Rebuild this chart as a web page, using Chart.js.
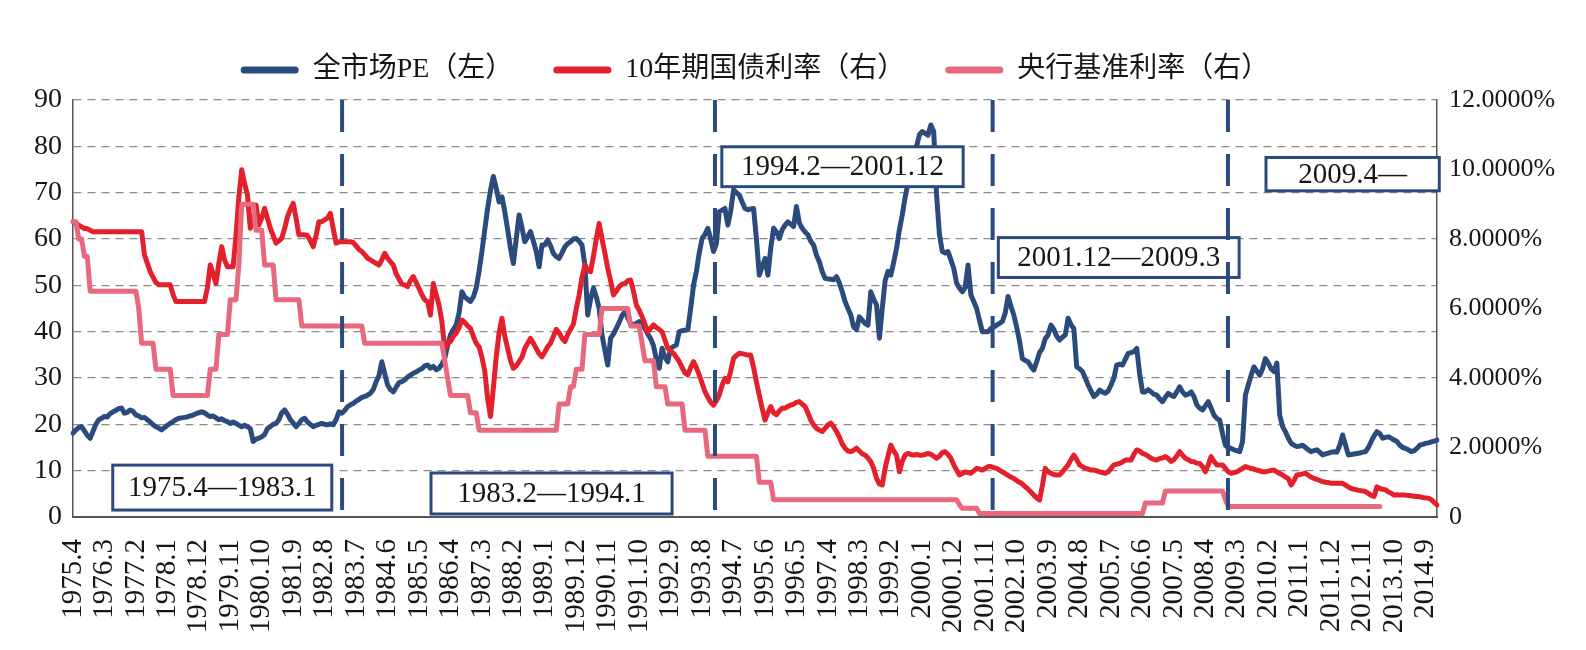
<!DOCTYPE html>
<html>
<head>
<meta charset="utf-8">
<script src="https://cdn.jsdelivr.net/npm/chart.js@4/dist/chart.umd.min.js"></script>
<style>
html,body{margin:0;padding:0;background:#ffffff;}
#wrap{width:1586px;height:650px;position:relative;}
</style>
</head>
<body>
<div id="wrap"><canvas id="c" width="1586" height="650"></canvas></div>
<script>
// ---------------- DATA ----------------
const seriesNames = ['全市场PE（左）', '10年期国债利率（右）', '央行基准利率（右）'];

// 全市场PE (left axis), monthly from 1975.4
const peValues = [
  18.1, 18.8, 19.3, 19.5, 18.6, 17.6, 17.0, 18.5, 20.0,
  21.0, 21.3, 21.7, 21.6, 22.3, 22.7, 23.0, 23.4, 23.5, 22.4, 22.6, 23.1,
  22.8, 22.0, 21.8, 21.4, 21.5, 21.0, 20.5, 19.9, 19.5, 19.2, 18.8, 19.3,
  19.8, 20.2, 20.6, 21.0, 21.3, 21.4, 21.5, 21.6, 21.8, 22.0, 22.3, 22.5,
  22.7, 22.5, 22.0, 21.7, 21.8, 21.4, 21.0, 21.2, 20.8, 20.6, 20.2, 20.5,
  20.2, 19.8, 19.5, 19.8, 19.5, 19.1, 16.3, 16.8, 17.0, 17.3, 17.8, 19.1,
  19.5, 20.0, 20.2, 21.0, 22.5, 23.1, 22.2, 21.0, 20.3, 19.5, 20.2, 21.0,
  21.3, 20.5, 20.0, 19.5, 19.8, 20.0, 20.2, 20.0, 19.9, 20.1, 19.9, 21.0,
  22.7, 22.4, 23.0, 23.8, 24.2, 24.5, 25.0, 25.4, 25.8, 26.0, 26.3, 26.7,
  27.5, 29.2, 30.5, 33.5, 31.0, 28.5, 27.5, 27.0, 28.0, 29.0, 29.2, 29.6,
  30.2, 30.6, 31.0, 31.3, 31.7, 32.0, 32.6, 32.8, 32.1, 32.5, 31.8, 32.1,
  33.0, 34.2, 37.0, 39.3, 40.5, 41.4, 44.0, 48.6, 47.5, 47.0, 46.5, 47.5,
  49.4, 53.0, 57.3, 62.0, 66.6, 70.5, 73.5, 71.0, 68.0, 69.1, 65.9, 62.0,
  58.0, 54.7, 60.0, 65.2, 62.5, 59.4, 60.5, 61.6, 59.5, 57.3, 54.0, 58.7,
  58.7, 59.8, 58.5, 56.9, 56.2, 55.8, 57.0, 58.3, 59.0, 59.4, 60.0, 60.1,
  59.5, 58.7, 54.4, 43.6, 47.0, 49.4, 47.5, 45.0, 39.3, 36.0, 32.8, 38.6,
  39.5, 40.7, 42.0, 43.5, 44.3, 43.0, 41.8, 41.4, 41.8, 42.2, 41.5, 40.7,
  39.5, 38.5, 37.0, 34.0, 32.1, 36.4, 34.5, 33.5, 36.4, 36.8, 37.1, 40.0,
  40.2, 40.3, 40.4, 45.0, 50.0, 53.0, 57.0, 60.1, 61.0, 62.3, 60.0, 57.3,
  59.0, 65.9, 66.2, 66.6, 63.0, 66.0, 70.6, 70.0, 69.5, 68.0, 66.6, 66.3,
  66.5, 66.6, 60.0, 52.2, 54.0, 55.8, 52.2, 58.0, 62.3, 61.5, 60.1, 62.0,
  63.0, 63.7, 63.2, 62.7, 67.0, 63.5, 62.3, 61.5, 60.9, 59.5, 58.7, 56.5,
  55.1, 53.0, 51.5, 51.4, 51.3, 51.2, 51.9, 50.5, 48.6, 46.5, 45.0, 43.6,
  41.0, 40.4, 43.2, 42.5, 41.8, 41.4, 48.6, 47.0, 45.8, 38.6, 45.0, 51.0,
  53.0, 52.2, 55.0, 58.0, 62.0, 65.2, 69.0, 72.0, 75.0, 77.5, 80.0, 82.5,
  83.2, 82.8, 82.4, 84.6, 83.2, 69.5, 61.0, 57.3, 57.0, 57.3, 55.5, 53.7,
  50.5, 49.4, 48.6, 49.5, 54.4, 47.9, 46.5, 45.0, 42.5, 40.0, 40.0, 40.0,
  40.7, 41.0, 41.4, 41.8, 42.2, 44.0, 47.6, 45.5, 43.6, 41.0, 38.0, 34.2,
  33.8, 33.5, 32.5, 31.7, 33.5, 35.5, 36.4, 38.5, 39.3, 41.4, 40.5, 39.0,
  38.2, 38.8, 39.3, 42.9, 41.5, 40.7, 32.4, 32.0, 31.4, 30.0, 28.5, 27.2,
  26.0, 26.5, 27.4, 27.0, 26.7, 27.2, 28.5, 30.0, 32.8, 33.0, 32.8, 34.0,
  35.3, 35.5, 35.7, 36.4, 31.0, 27.0, 27.0, 27.5, 27.0, 26.5, 26.3, 25.5,
  24.9, 25.8, 26.7, 26.3, 26.0, 27.0, 28.1, 27.0, 26.3, 26.5, 27.0, 26.0,
  24.2, 23.5, 23.1, 24.0, 24.9, 23.5, 22.0, 21.3, 20.9, 18.0, 15.5, 15.0,
  14.8, 14.5, 14.3, 14.1, 16.3, 26.3, 28.5, 30.6, 32.4, 31.5, 30.6, 32.0,
  34.2, 33.2, 32.0, 31.4, 33.2, 22.0, 19.5, 18.4, 17.0, 15.9, 15.5, 15.2,
  15.3, 15.5, 15.0, 14.5, 14.1, 14.3, 14.5, 14.0, 13.4, 13.6, 13.8, 14.0,
  14.1, 14.0, 15.5, 17.7, 15.5, 13.4, 13.5, 13.6, 13.7, 13.8, 14.0, 14.1,
  15.0, 16.3, 17.5, 18.4, 18.0, 17.0, 17.2, 17.3, 17.0, 16.6, 16.3, 15.5,
  15.0, 14.8, 14.5, 14.1, 14.3, 14.8, 15.5, 15.7, 15.9, 16.0, 16.2, 16.4,
  16.6
];

// 10年期国债利率 (right axis, %), monthly from 1975.4
const bond10yValues = [
  8.5, 8.45, 8.4, 8.35, 8.3, 8.3, 8.25, 8.21, 8.21,
  8.21, 8.21, 8.21, 8.21, 8.21, 8.21, 8.21, 8.21, 8.21, 8.21, 8.21, 8.21,
  8.21, 8.21, 8.21, 8.21, 7.54, 7.3, 7.06, 6.9, 6.75, 6.68, 6.68, 6.68,
  6.68, 6.68, 6.4, 6.2, 6.2, 6.2, 6.2, 6.2, 6.2, 6.2, 6.2, 6.2,
  6.2, 6.2, 6.6, 7.25, 7.0, 6.72, 7.3, 7.78, 7.4, 7.2, 7.2, 7.2,
  8.1, 9.2, 9.99, 9.6, 9.27, 8.31, 8.6, 8.98, 8.4, 8.6, 8.88, 8.6,
  8.31, 8.1, 7.88, 7.95, 8.02, 8.3, 8.64, 8.85, 9.03, 8.6, 8.12, 8.12,
  8.12, 8.1, 7.95, 7.78, 8.1, 8.5, 8.5, 8.55, 8.6, 8.74, 8.3, 7.88,
  7.92, 7.92, 7.92, 7.92, 7.92, 7.9, 7.8, 7.7, 7.64, 7.55, 7.45, 7.4,
  7.35, 7.3, 7.25, 7.4, 7.59, 7.45, 7.35, 7.25, 7.0, 6.85, 6.7, 6.68,
  6.63, 6.8, 6.92, 6.75, 6.58, 6.4, 6.25, 6.2, 5.81, 6.72, 6.4, 6.1,
  5.62, 4.85, 5.0, 5.05, 5.2, 5.29, 5.45, 5.67, 5.6, 5.5, 5.43, 5.2,
  5.0, 4.9, 4.6, 4.2, 3.4, 2.89, 3.7, 4.6, 5.3, 5.72, 5.2, 4.85,
  4.5, 4.28, 4.35, 4.47, 4.6, 4.85, 5.0, 5.14, 5.0, 4.85, 4.7, 4.61,
  4.75, 4.9, 5.0, 5.2, 5.4, 5.3, 5.15, 5.05, 5.25, 5.4, 5.55, 6.0,
  6.39, 6.9, 7.25, 7.1, 7.06, 7.5, 8.0, 8.45, 8.0, 7.6, 7.16, 6.8,
  6.39, 6.5, 6.63, 6.7, 6.72, 6.8, 6.82, 6.5, 6.1, 5.95, 5.77, 5.55,
  5.33, 5.43, 5.53, 5.45, 5.4, 5.33, 5.1, 4.85, 4.78, 4.71, 4.6, 4.47,
  4.3, 4.15, 4.09, 4.3, 4.47, 4.3, 4.09, 3.85, 3.61, 3.45, 3.3, 3.22,
  3.35, 3.51, 3.8, 3.99, 3.89, 4.2, 4.57, 4.65, 4.71, 4.7, 4.68, 4.66,
  4.66, 4.3, 3.89, 3.5, 3.13, 2.79, 3.0, 3.18, 3.0, 2.94, 3.05, 3.13,
  3.13, 3.18, 3.22, 3.25, 3.3, 3.32, 3.25, 3.18, 3.0, 2.79, 2.65, 2.55,
  2.5, 2.46, 2.55, 2.65, 2.7, 2.6, 2.46, 2.3, 2.1, 1.98, 1.9, 1.88,
  1.92, 1.98, 1.9, 1.82, 1.78, 1.7, 1.59, 1.4, 1.11, 0.95, 0.92, 1.4,
  1.75, 2.07, 1.9, 1.78, 1.3, 1.6, 1.78, 1.83, 1.8, 1.78, 1.8, 1.78,
  1.78, 1.8, 1.83, 1.8, 1.75, 1.69, 1.75, 1.85, 1.88, 1.8, 1.69, 1.5,
  1.35, 1.21, 1.25, 1.3, 1.28, 1.26, 1.33, 1.4, 1.38, 1.35, 1.4, 1.45,
  1.45, 1.42, 1.4, 1.35, 1.3, 1.25, 1.2, 1.15, 1.11, 1.05, 1.0, 0.95,
  0.87, 0.8, 0.72, 0.63, 0.55, 0.49, 0.9, 1.4, 1.3, 1.26, 1.22, 1.21,
  1.21, 1.3, 1.4, 1.5, 1.65, 1.78, 1.65, 1.5, 1.45, 1.4, 1.38, 1.35,
  1.35, 1.33, 1.3, 1.28, 1.26, 1.3, 1.4, 1.5, 1.52, 1.54, 1.58, 1.64,
  1.64, 1.64, 1.8, 1.93, 1.9, 1.83, 1.8, 1.75, 1.69, 1.66, 1.64, 1.68,
  1.7, 1.74, 1.68, 1.6, 1.65, 1.75, 1.88, 1.78, 1.69, 1.65, 1.6, 1.59,
  1.55, 1.54, 1.45, 1.3, 1.5, 1.74, 1.6, 1.5, 1.5, 1.5, 1.4, 1.3,
  1.26, 1.28, 1.3, 1.35, 1.4, 1.45, 1.42, 1.4, 1.38, 1.35, 1.33, 1.3,
  1.3, 1.32, 1.34, 1.35, 1.3, 1.25, 1.21, 1.15, 1.11, 0.92, 1.05, 1.21,
  1.22, 1.24, 1.26, 1.2, 1.15, 1.11, 1.08, 1.05, 1.02, 1.0, 0.99, 0.97,
  0.97, 0.97, 0.97, 0.97, 0.92, 0.87, 0.82, 0.8, 0.78, 0.76, 0.75, 0.73,
  0.68, 0.62, 0.59, 0.87, 0.82, 0.8, 0.78, 0.72, 0.68, 0.63, 0.64, 0.63,
  0.63, 0.63, 0.62, 0.61, 0.6, 0.59, 0.58, 0.56, 0.55, 0.54, 0.5, 0.42,
  0.35
];

// 央行基准利率 (right axis, %), monthly from 1975.4 to 2013.5
const policyRateValues = [
  8.5, 8.5, 8.0, 8.0, 7.5, 7.5, 6.5, 6.5, 6.5,
  6.5, 6.5, 6.5, 6.5, 6.5, 6.5, 6.5, 6.5, 6.5, 6.5, 6.5, 6.5,
  6.5, 6.5, 6.0, 5.0, 5.0, 5.0, 5.0, 5.0, 4.25, 4.25, 4.25, 4.25,
  4.25, 4.25, 3.5, 3.5, 3.5, 3.5, 3.5, 3.5, 3.5, 3.5, 3.5, 3.5,
  3.5, 3.5, 3.5, 4.25, 4.25, 4.25, 5.25, 5.25, 5.25, 5.25, 6.25, 6.25,
  6.25, 7.25, 9.0, 9.0, 9.0, 9.0, 9.0, 8.25, 8.25, 8.25, 7.25, 7.25,
  7.25, 7.25, 6.25, 6.25, 6.25, 6.25, 6.25, 6.25, 6.25, 6.25, 6.25, 5.5,
  5.5, 5.5, 5.5, 5.5, 5.5, 5.5, 5.5, 5.5, 5.5, 5.5, 5.5, 5.5,
  5.5, 5.5, 5.5, 5.5, 5.5, 5.5, 5.5, 5.5, 5.5, 5.0, 5.0, 5.0,
  5.0, 5.0, 5.0, 5.0, 5.0, 5.0, 5.0, 5.0, 5.0, 5.0, 5.0, 5.0,
  5.0, 5.0, 5.0, 5.0, 5.0, 5.0, 5.0, 5.0, 5.0, 5.0, 5.0, 5.0,
  5.0, 4.5, 4.0, 3.5, 3.5, 3.5, 3.5, 3.5, 3.5, 3.5, 3.0, 3.0,
  3.0, 2.5, 2.5, 2.5, 2.5, 2.5, 2.5, 2.5, 2.5, 2.5, 2.5, 2.5,
  2.5, 2.5, 2.5, 2.5, 2.5, 2.5, 2.5, 2.5, 2.5, 2.5, 2.5, 2.5,
  2.5, 2.5, 2.5, 2.5, 2.5, 3.25, 3.25, 3.25, 3.25, 3.75, 3.75, 4.25,
  4.25, 4.25, 5.25, 5.25, 5.25, 5.25, 5.25, 5.25, 6.0, 6.0, 6.0, 6.0,
  6.0, 6.0, 6.0, 6.0, 6.0, 6.0, 5.5, 5.5, 5.5, 5.5, 5.0, 4.5,
  4.5, 4.5, 4.5, 3.75, 3.75, 3.75, 3.75, 3.25, 3.25, 3.25, 3.25, 3.25,
  3.25, 2.5, 2.5, 2.5, 2.5, 2.5, 2.5, 2.5, 2.5, 1.75, 1.75, 1.75,
  1.75, 1.75, 1.75, 1.75, 1.75, 1.75, 1.75, 1.75, 1.75, 1.75, 1.75, 1.75,
  1.75, 1.75, 1.75, 1.0, 1.0, 1.0, 1.0, 1.0, 0.5, 0.5, 0.5, 0.5,
  0.5, 0.5, 0.5, 0.5, 0.5, 0.5, 0.5, 0.5, 0.5, 0.5, 0.5, 0.5,
  0.5, 0.5, 0.5, 0.5, 0.5, 0.5, 0.5, 0.5, 0.5, 0.5, 0.5, 0.5,
  0.5, 0.5, 0.5, 0.5, 0.5, 0.5, 0.5, 0.5, 0.5, 0.5, 0.5, 0.5,
  0.5, 0.5, 0.5, 0.5, 0.5, 0.5, 0.5, 0.5, 0.5, 0.5, 0.5, 0.5,
  0.5, 0.5, 0.5, 0.5, 0.5, 0.5, 0.5, 0.5, 0.5, 0.5, 0.5, 0.5,
  0.5, 0.35, 0.25, 0.25, 0.25, 0.25, 0.25, 0.25, 0.1, 0.1, 0.1, 0.1,
  0.1, 0.1, 0.1, 0.1, 0.1, 0.1, 0.1, 0.1, 0.1, 0.1, 0.1, 0.1,
  0.1, 0.1, 0.1, 0.1, 0.1, 0.1, 0.1, 0.1, 0.1, 0.1, 0.1, 0.1,
  0.1, 0.1, 0.1, 0.1, 0.1, 0.1, 0.1, 0.1, 0.1, 0.1, 0.1, 0.1,
  0.1, 0.1, 0.1, 0.1, 0.1, 0.1, 0.1, 0.1, 0.1, 0.1, 0.1, 0.1,
  0.1, 0.1, 0.1, 0.1, 0.1, 0.1, 0.4, 0.4, 0.4, 0.4, 0.4, 0.4,
  0.4, 0.75, 0.75, 0.75, 0.75, 0.75, 0.75, 0.75, 0.75, 0.75, 0.75, 0.75,
  0.75, 0.75, 0.75, 0.75, 0.75, 0.75, 0.75, 0.75, 0.75, 0.75, 0.5, 0.3,
  0.3, 0.3, 0.3, 0.3, 0.3, 0.3, 0.3, 0.3, 0.3, 0.3, 0.3, 0.3,
  0.3, 0.3, 0.3, 0.3, 0.3, 0.3, 0.3, 0.3, 0.3, 0.3, 0.3, 0.3,
  0.3, 0.3, 0.3, 0.3, 0.3, 0.3, 0.3, 0.3, 0.3, 0.3, 0.3, 0.3,
  0.3, 0.3, 0.3, 0.3, 0.3, 0.3, 0.3, 0.3, 0.3, 0.3, 0.3, 0.3,
  0.3, 0.3, 0.3, 0.3, 0.3
];

// Tick labels
const xTickLabels = ['1975.4','1976.3','1977.2','1978.1','1978.12','1979.11','1980.10','1981.9','1982.8',
  '1983.7','1984.6','1985.5','1986.4','1987.3','1988.2','1989.1','1989.12','1990.11','1991.10','1992.9',
  '1993.8','1994.7','1995.6','1996.5','1997.4','1998.3','1999.2','2000.1','2000.12','2001.11','2002.10',
  '2003.9','2004.8','2005.7','2006.6','2007.5','2008.4','2009.3','2010.2','2011.1','2011.12','2012.11',
  '2013.10','2014.9'];
const leftTickLabels = ['0','10','20','30','40','50','60','70','80','90'];
const rightTickLabels = ['0','2.0000%','4.0000%','6.0000%','8.0000%','10.0000%','12.0000%'];
const periodLabels = ['1975.4—1983.1','1983.2—1994.1','1994.2—2001.12','2001.12—2009.3','2009.4—'];

// Monthly categories (1975.4 onward)
const months = [];
for (let i = 0; i < peValues.length; i++) {
  const t = 3 + i;
  months.push((1975 + Math.floor(t / 12)) + '.' + (t % 12 + 1));
}

// ---------------- LAYOUT / STYLE ----------------
const BLUE = '#2c4b7d', RED = '#e3212c', PINK = '#e8687e', TXT = '#161616';
const FONT = '"Liberation Serif", "Times New Roman", "Noto Sans CJK SC", serif';
// period separators (in month-index units) and period boxes (month index / left-axis units)
const dividerAt = [94.1, 224.5, 321.6, 403.9];
const boxGeom = [
  {x0: 13.9,  x1: 90.5,  y0: 11.2, y1: 1.5},
  {x0: 125.2, x1: 209.5, y0: 9.5,  y1: 0.65},
  {x0: 226.9, x1: 311.3, y0: 79.9, y1: 71.3},
  {x0: 323.6, x1: 407.8, y0: 60.3, y1: 51.7},
  {x0: 417.2, x1: 477.8, y0: 77.6, y1: 70.4}
];

const legendSpacer = {
  id: 'legendSpacer',
  afterInit(chart) {
    const lg = chart.legend;
    if (lg && !lg._wrapped) {
      const orig = lg.fit.bind(lg);
      lg.fit = function () { orig(); this.height += 6; };
      lg._wrapped = true;
    }
  }
};

const overlay = {
  id: 'overlay',
  afterDatasetsDraw(chart) {
    const {ctx, chartArea: a, scales} = chart;
    const x = scales.x, y = scales.y;
    ctx.save();
    // period boxes
    boxGeom.forEach((b, i) => {
      const l = x.getPixelForValue(b.x0), r = x.getPixelForValue(b.x1);
      const t = y.getPixelForValue(b.y0), bt = y.getPixelForValue(b.y1);
      ctx.fillStyle = '#ffffff';
      ctx.fillRect(l, t, r - l, bt - t);
      ctx.lineWidth = 3;
      ctx.strokeStyle = BLUE;
      ctx.strokeRect(l, t, r - l, bt - t);
      ctx.fillStyle = TXT;
      ctx.font = '29px ' + FONT;
      ctx.textAlign = 'center';
      ctx.textBaseline = 'middle';
      ctx.fillText(periodLabels[i], (l + r) / 2, (t + bt) / 2 + 1);
    });
    // dashed separators
    ctx.strokeStyle = BLUE;
    ctx.lineWidth = 4;
    ctx.setLineDash([32, 22]);
    dividerAt.forEach(m => {
      const px = x.getPixelForValue(m);
      ctx.beginPath();
      ctx.moveTo(px, a.top);
      ctx.lineTo(px, a.bottom - 3);
      ctx.stroke();
    });
    ctx.restore();
  }
};

new Chart(document.getElementById('c'), {
  type: 'line',
  data: {
    labels: months,
    datasets: [
      {label: seriesNames[0], data: peValues, yAxisID: 'y', borderColor: BLUE, backgroundColor: BLUE,
       borderWidth: 5, pointRadius: 0, tension: 0, order: 3, borderJoinStyle: 'round', borderCapStyle: 'round'},
      {label: seriesNames[1], data: bond10yValues, yAxisID: 'y1', borderColor: RED, backgroundColor: RED,
       borderWidth: 5, pointRadius: 0, tension: 0, order: 2, borderJoinStyle: 'round', borderCapStyle: 'round'},
      {label: seriesNames[2], data: policyRateValues, yAxisID: 'y1', borderColor: PINK, backgroundColor: PINK,
       borderWidth: 5, pointRadius: 0, tension: 0, order: 1, borderJoinStyle: 'round', borderCapStyle: 'round'}
    ]
  },
  options: {
    responsive: false,
    animation: false,
    devicePixelRatio: 1,
    layout: {padding: {top: 16, left: 0, right: 0, bottom: 0}},
    plugins: {
      tooltip: {enabled: false},
      legend: {
        position: 'top',
        fullSize: false,
        labels: {
          font: {family: FONT, size: 28},
          color: TXT,
          boxWidth: 58,
          boxHeight: 7,
          padding: 40,
          useBorderRadius: true,
          borderRadius: 3.5,
          sort: (a, b) => a.datasetIndex - b.datasetIndex,
          generateLabels(chart) {
            const items = Chart.defaults.plugins.legend.labels.generateLabels(chart);
            items.forEach(it => { it.fillStyle = it.strokeStyle; it.lineWidth = 0; });
            return items;
          }
        }
      }
    },
    scales: {
      x: {
        type: 'category',
        offset: false,
        grid: {display: false, drawTicks: false},
        border: {display: true, color: '#555555', width: 2},
        afterFit(s) { s.height = 133; },
        ticks: {
          autoSkip: false,
          minRotation: 90,
          maxRotation: 90,
          padding: 22,
          color: TXT,
          font: {family: FONT, size: 29},
          callback(value) {
            const lab = this.getLabelForValue(value);
            return xTickLabels.includes(lab) ? lab : '';
          }
        }
      },
      y: {
        position: 'left',
        min: 0, max: 90,
        afterFit(s) { s.width = 73; },
        grid: {display: true, color: '#8c8c8c', lineWidth: 1.3, drawTicks: false},
        border: {display: true, color: '#555555', width: 1.5, dash: [8, 6]},
        ticks: {
          stepSize: 10,
          padding: 11,
          color: TXT,
          font: {family: FONT, size: 28},
          callback(value, index) { return leftTickLabels[index]; }
        }
      },
      y1: {
        position: 'right',
        min: 0, max: 12,
        afterFit(s) { s.width = 149; },
        grid: {display: false, drawTicks: false},
        border: {display: true, color: '#555555', width: 1.5},
        ticks: {
          stepSize: 2,
          padding: 12,
          color: TXT,
          font: {family: FONT, size: 26},
          callback(value, index) { return rightTickLabels[index]; }
        }
      }
    }
  },
  plugins: [legendSpacer, overlay]
});
</script>
</body>
</html>
